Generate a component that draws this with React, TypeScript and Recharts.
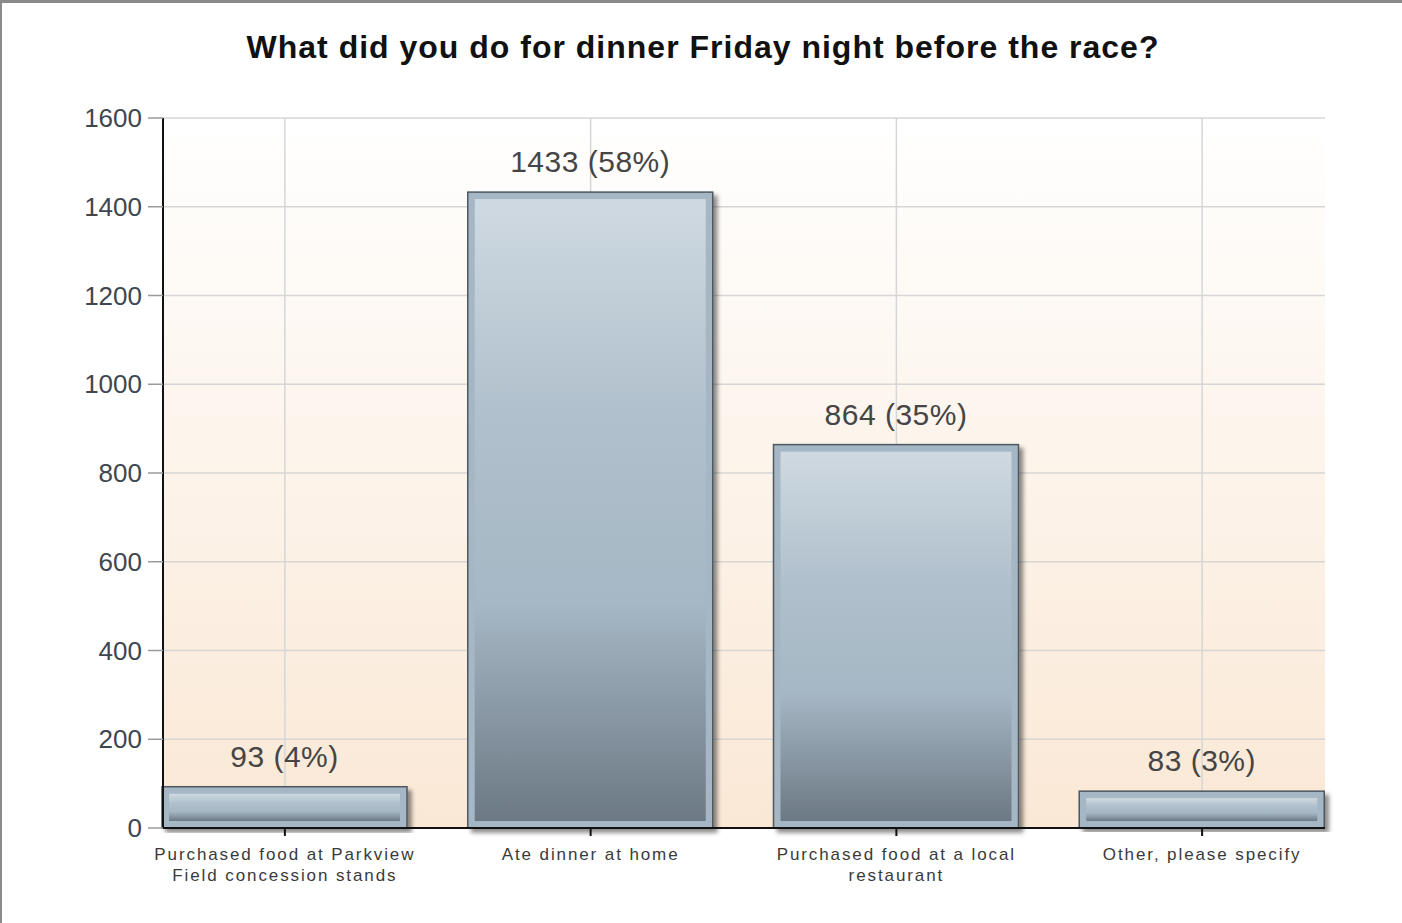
import React from 'react';
import { BarChart, Bar, XAxis, YAxis, CartesianGrid, LabelList } from 'recharts';

const categories = [
  'Purchased food at Parkview\nField concession stands',
  'Ate dinner at home',
  'Purchased food at a local\nrestaurant',
  'Other, please specify',
];
const counts = [93, 1433, 864, 83];
const percents = [4, 58, 35, 3];
const yTicks = [0, 200, 400, 600, 800, 1000, 1200, 1400, 1600];

const data = categories.map((name, i) => ({ name, count: counts[i], pct: percents[i] }));

const FONT = 'Arial, "Liberation Sans", sans-serif';

function BevelBar(props: any) {
  const { x, y, width, height } = props;
  if (!height || height <= 0) return null;
  const b = 7;
  return (
    <g>
      <rect x={x} y={y} width={width} height={height} fill="#a5b6c4" stroke="#4d5860" strokeWidth={1.5} filter="url(#barShadow)" />
      <rect x={x + b} y={y + b} width={Math.max(width - 2 * b, 0)} height={Math.max(height - 2 * b, 0)} fill="url(#barFill)" />
    </g>
  );
}

function CategoryTick(props: any) {
  const { x, y, payload } = props;
  const lines = String(payload.value).split('\n');
  return (
    <text x={x} y={y + 10} textAnchor="middle" fill="#3a3a3a" fontFamily={FONT} fontSize={17} letterSpacing={1.9}>
      {lines.map((l, i) => (
        <tspan key={i} x={x} dy={i === 0 ? 12 : 21}>{l}</tspan>
      ))}
    </text>
  );
}

function CountLabel(props: any) {
  const { x, y, width, index } = props;
  return (
    <text x={x + width / 2} y={y - 20} textAnchor="middle" fill="#454545" fontFamily={FONT} fontSize={30} letterSpacing={0.5}>
      {`${counts[index]} (${percents[index]}%)`}
    </text>
  );
}

export default function App() {
  return (
    <div style={{ position: 'absolute', left: 0, top: 0, width: 1402, height: 923, background: '#fff', fontFamily: FONT }}>
      <div style={{ position: 'absolute', left: 0, top: 0, width: 1402, height: 923, borderTop: '3px solid #8a8a8a', borderLeft: '2px solid #8a8a8a', boxSizing: 'border-box', pointerEvents: 'none', zIndex: 2 }} />
      <div style={{ position: 'absolute', left: 0, top: 29, width: 1406, textAlign: 'center', fontSize: 32, fontWeight: 'bold', letterSpacing: 1, color: '#111', zIndex: 1 }}>
        What did you do for dinner Friday night before the race?
      </div>
      <BarChart width={1402} height={923} data={data} margin={{ top: 118, right: 77, left: 0, bottom: 65 }} barSize={245}>
        <defs>
          <linearGradient id="plotBg" x1="0" y1="0" x2="0" y2="1">
            <stop offset="0%" stopColor="#ffffff" />
            <stop offset="100%" stopColor="#fae8d5" />
          </linearGradient>
          <linearGradient id="barFill" x1="0" y1="0" x2="0" y2="1">
            <stop offset="0%" stopColor="#cfd9e1" />
            <stop offset="35%" stopColor="#b0c0cc" />
            <stop offset="65%" stopColor="#a6b7c5" />
            <stop offset="100%" stopColor="#6c7984" />
          </linearGradient>
          <filter id="barShadow" x="-5%" y="-5%" width="115%" height="115%">
            <feDropShadow dx={4} dy={4} stdDeviation={2} floodColor="#000" floodOpacity={0.45} />
          </filter>
        </defs>
        <CartesianGrid fill="url(#plotBg)" stroke="#d6d6d6" strokeWidth={1.5} syncWithTicks />
        <XAxis
          dataKey="name"
          height={30}
          padding={{ left: -31, right: -30 }}
          axisLine={{ stroke: '#111', strokeWidth: 2 }}
          tickLine={{ stroke: '#111', strokeWidth: 2 }}
          tickSize={8}
          interval={0}
          tick={<CategoryTick />}
        />
        <YAxis
          width={163}
          domain={[0, 1600]}
          ticks={yTicks}
          axisLine={{ stroke: '#111', strokeWidth: 2 }}
          tickLine={{ stroke: '#9a9a9a', strokeWidth: 1.5 }}
          tickSize={15}
          tickMargin={6}
          tick={{ fill: '#3e4650', fontSize: 26, fontFamily: FONT }}
        />
        <Bar dataKey="count" shape={<BevelBar />} isAnimationActive={false}>
          <LabelList dataKey="count" content={<CountLabel />} />
        </Bar>
      </BarChart>
    </div>
  );
}
